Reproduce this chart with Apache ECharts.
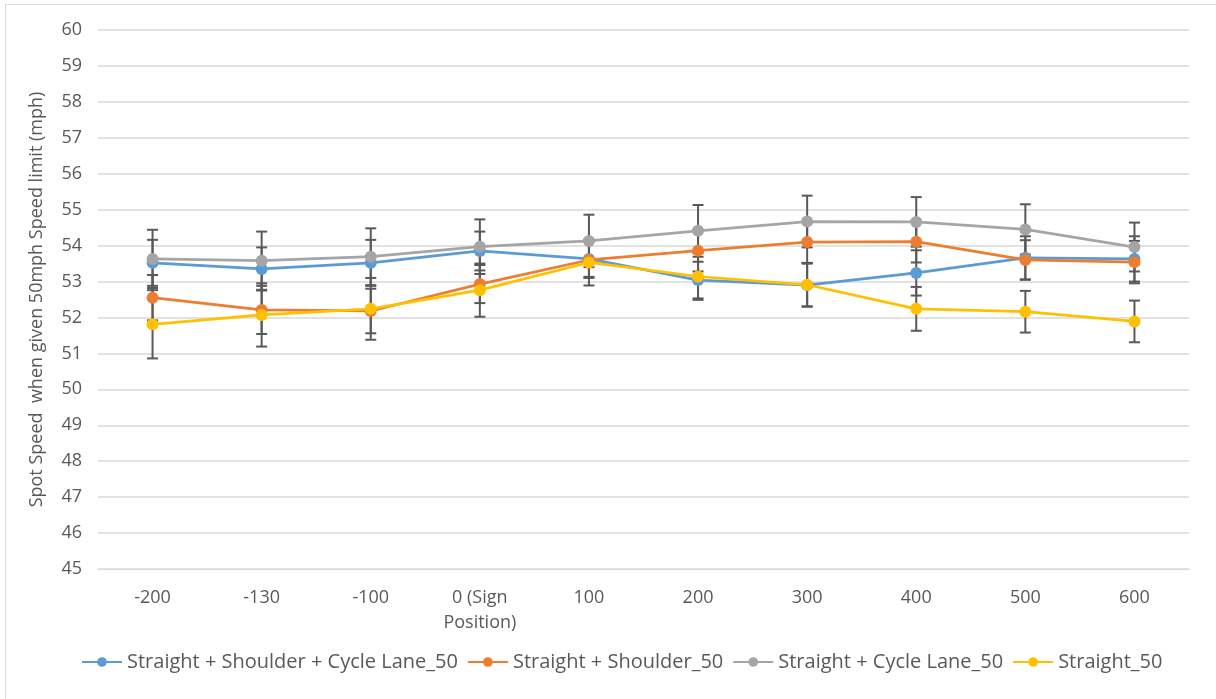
<!DOCTYPE html>
<html>
<head>
<meta charset="utf-8">
<script src="https://cdn.jsdelivr.net/npm/echarts@6/dist/echarts.min.js"></script>
<style>
html,body{margin:0;padding:0;background:#fff;}
#frame{position:absolute;left:5px;top:4px;width:1220px;height:710px;border:1px solid #d9d9d9;box-sizing:border-box;}
#chart{position:absolute;left:0;top:0;width:1216px;height:699px;}
</style>
</head>
<body>
<div id="frame"></div>
<div id="chart"></div>
<script>
const categories = ['-200', '-130', '-100', '0 (Sign\nPosition)', '100', '200', '300', '400', '500', '600'];
const yTicks = { min: 45, max: 60, interval: 1 };

const seriesNames = ['Straight + Shoulder + Cycle Lane_50', 'Straight + Shoulder_50', 'Straight + Cycle Lane_50', 'Straight_50'];
const seriesColors = ['#5b9bd5', '#ed7d31', '#a5a5a5', '#ffc000'];

const shoulderCycle = [53.52, 53.35, 53.52, 53.85, 53.63, 53.04, 52.90, 53.24, 53.66, 53.63];
const shoulder      = [52.55, 52.21, 52.18, 52.93, 53.60, 53.86, 54.10, 54.11, 53.60, 53.54];
const cycleLane     = [53.63, 53.58, 53.69, 53.97, 54.13, 54.41, 54.67, 54.66, 54.45, 53.96];
const straight      = [51.81, 52.07, 52.24, 52.76, 53.53, 53.14, 52.91, 52.24, 52.16, 51.89];

const errShoulderCycle = [0.64, 0.60, 0.64, 0.54, 0.50, 0.51, 0.60, 0.63, 0.60, 0.63];
const errShoulder      = [0.63, 0.67, 0.62, 0.53, 0.50, 0.58, 0.58, 0.58, 0.55, 0.59];
const errCycleLane     = [0.81, 0.81, 0.79, 0.76, 0.73, 0.72, 0.72, 0.69, 0.70, 0.68];
const errStraight      = [0.95, 0.88, 0.86, 0.74, 0.64, 0.65, 0.60, 0.61, 0.58, 0.58];

const values = [shoulderCycle, shoulder, cycleLane, straight];
const errors = [errShoulderCycle, errShoulder, errCycleLane, errStraight];

const FONT = '"Open Sans", "Noto Sans", sans-serif';
const TXT = '#595959';

const chart = echarts.init(document.getElementById('chart'), null, { renderer: 'canvas' });

const series = [];
values.forEach((vals, s) => {
  series.push({
    name: seriesNames[s],
    type: 'line',
    data: vals,
    symbol: 'circle',
    symbolSize: 12,
    z: 3,
    lineStyle: { color: seriesColors[s], width: 2.75 },
    itemStyle: { color: seriesColors[s] },
    emphasis: { disabled: true },
    animation: false
  });
});
values.forEach((vals, s) => {
  series.push({
    name: seriesNames[s] + ' err',
    type: 'custom',
    z: 2,
    animation: false,
    silent: true,
    data: vals.map((v, i) => [i, v, errors[s][i]]),
    renderItem: function (params, api) {
      const i = api.value(0), v = api.value(1), e = api.value(2);
      const top = api.coord([i, v + e]);
      const bot = api.coord([i, v - e]);
      const hw = 5.5;
      const style = { stroke: '#595959', lineWidth: 2, fill: null };
      return {
        type: 'group',
        children: [
          { type: 'line', shape: { x1: top[0], y1: top[1], x2: bot[0], y2: bot[1] }, style: style },
          { type: 'line', shape: { x1: top[0] - hw, y1: top[1], x2: top[0] + hw, y2: top[1] }, style: style },
          { type: 'line', shape: { x1: bot[0] - hw, y1: bot[1], x2: bot[0] + hw, y2: bot[1] }, style: style }
        ]
      };
    }
  });
});

chart.setOption({
  backgroundColor: 'transparent',
  animation: false,
  grid: { left: 98, right: 27, top: 30, bottom: 130, containLabel: false },
  legend: {
    data: seriesNames,
    bottom: 22,
    left: 76,
    itemWidth: 40,
    itemHeight: 12,
    itemGap: 9,
    textStyle: { color: TXT, fontSize: 20, fontFamily: FONT }
  },
  xAxis: {
    type: 'category',
    data: categories,
    boundaryGap: true,
    axisLine: { show: true, lineStyle: { color: '#d9d9d9', width: 1 } },
    axisTick: { show: false },
    axisLabel: { color: TXT, fontSize: 18, fontFamily: FONT, margin: 16, lineHeight: 25, interval: 0 }
  },
  yAxis: {
    type: 'value',
    min: yTicks.min,
    max: yTicks.max,
    interval: yTicks.interval,
    name: 'Spot Speed  when given 50mph Speed limit (mph)',
    nameLocation: 'middle',
    nameGap: 52,
    nameTextStyle: { color: TXT, fontSize: 18, fontFamily: FONT },
    axisLine: { show: false },
    axisTick: { show: false },
    axisLabel: { color: TXT, fontSize: 18, fontFamily: FONT, margin: 16 },
    splitLine: { show: true, lineStyle: { color: '#d9d9d9', width: 1.5 } }
  },
  series: series
});
</script>
</body>
</html>
